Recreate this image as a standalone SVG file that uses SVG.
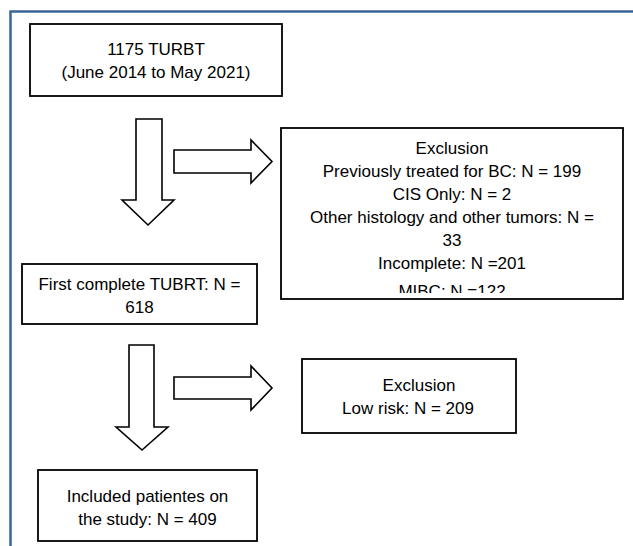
<svg xmlns="http://www.w3.org/2000/svg" width="633" height="546" viewBox="0 0 633 546">
<style>
.box{fill:#fff;stroke:#000;stroke-width:1.8}
.arr{fill:#fff;stroke:#000;stroke-width:1.6;stroke-linejoin:miter}
text{font-family:"Liberation Sans",Arial,sans-serif;font-size:17px;fill:#000;text-anchor:middle}
</style>
<defs>
<clipPath id="clip1"><rect x="282" y="129" width="340" height="164"/></clipPath>
</defs>
<rect x="0" y="0" width="633" height="546" fill="#fff"/>
<path d="M10.5 550 V11.5 H640" fill="none" stroke="#3a6597" stroke-width="2.5"/>
<g id="connectors">
<path class="arr" d="M136 119 H162 V200 H174 L148 225 L122 200 H136 Z"/>
<path class="arr" d="M174 150 H251 V140 L272 161.5 L251 183 V173 H174 Z"/>
<path class="arr" d="M129 345 H154 V427 H168 L142 450 L116 427 H129 Z"/>
<path class="arr" d="M174 377 H251 V366 L272 388 L251 410 V399 H174 Z"/>
</g>
<g id="node-start">
<rect class="box" x="30" y="24" width="252" height="72"/>
<text x="156" y="55">1175 TURBT</text>
<text x="156" y="78">(June 2014 to May 2021)</text>
</g>
<g id="node-exclusion1">
<rect class="box" x="281" y="128" width="342" height="171"/>
<g clip-path="url(#clip1)">
<text x="452" y="154">Exclusion</text>
<text x="452" y="177">Previously treated for BC: N = 199</text>
<text x="452" y="200">CIS Only: N = 2</text>
<text x="452" y="223">Other histology and other tumors: N =</text>
<text x="452" y="246">33</text>
<text x="452" y="269">Incomplete: N =201</text>
<text x="452" y="297">MIBC: N =122</text>
</g>
</g>
<g id="node-first">
<rect class="box" x="22" y="264" width="235" height="60"/>
<text x="139.5" y="290">First complete TUBRT: N =</text>
<text x="139.5" y="313">618</text>
</g>
<g id="node-exclusion2">
<rect class="box" x="302" y="359" width="214" height="74"/>
<text x="419" y="391">Exclusion</text>
<text x="408" y="414">Low risk: N = 209</text>
</g>
<g id="node-included">
<rect class="box" x="38" y="470" width="219" height="71"/>
<text x="147.5" y="502">Included patientes on</text>
<text x="147.5" y="525">the study: N = 409</text>
</g>
</svg>
